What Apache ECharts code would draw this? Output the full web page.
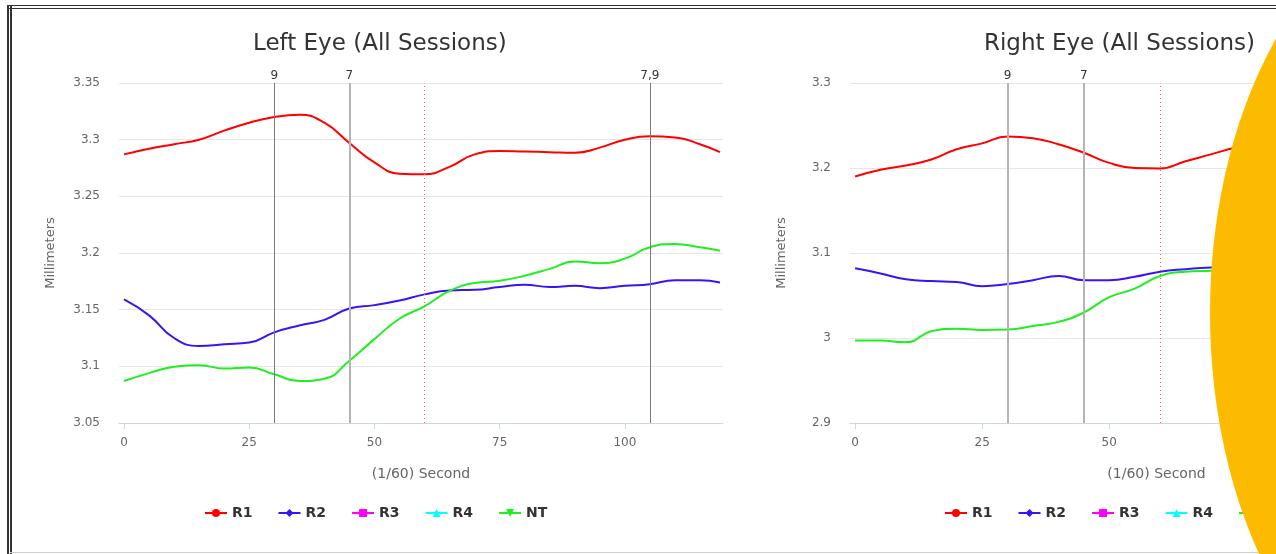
<!DOCTYPE html>
<html>
<head>
<meta charset="utf-8">
<script src="https://cdn.jsdelivr.net/npm/echarts@6/dist/echarts.min.js"></script>
<style>
  html, body { margin: 0; padding: 0; background: #fff; overflow: hidden; width: 1276px; height: 554px; }
  #chart { position: absolute; left: 0; top: 0; width: 1500px; height: 554px; }
  .frameTop { position: absolute; left: 7px; top: 5px; width: 1400px; height: 0; border-top: 4px double #333; }
  .frameLeft { position: absolute; left: 7px; top: 5px; width: 0; height: 549px; border-left: 5px double #333; }
  .frameBottom { position: absolute; left: 10px; top: 552px; width: 1400px; height: 0; border-top: 1px solid #cfcfcf; }
  .blob { position: absolute; left: 1210px; top: -92px; width: 500px; height: 810px; border-radius: 50%; background: #FDBB00; z-index: 10; }
</style>
</head>
<body>
<div id="chart"></div>
<div class="frameTop"></div>
<div class="frameLeft"></div>
<div class="frameBottom"></div>
<div class="blob"></div>
<script>
// time axis, in (1/60) second
const seconds = [0, 5, 10, 15, 20, 25, 30, 35, 40, 45, 50, 55, 60, 65, 70, 75, 80, 85, 90, 95, 100, 105, 110, 115, 119];
const xTicks = [0, 25, 50, 75, 100];
const seriesNames = ['R1', 'R2', 'R3', 'R4', 'NT'];

// Left eye
const leftR1 = [3.287, 3.292, 3.296, 3.300, 3.308, 3.315, 3.320, 3.322, 3.315, 3.297, 3.280, 3.270, 3.2695, 3.276, 3.287, 3.290, 3.2895, 3.289, 3.2885, 3.293, 3.300, 3.303, 3.302, 3.296, 3.289];
const leftR2 = [3.159, 3.145, 3.125, 3.118, 3.1195, 3.121, 3.130, 3.136, 3.141, 3.151, 3.154, 3.158, 3.1635, 3.167, 3.1675, 3.170, 3.172, 3.170, 3.171, 3.169, 3.171, 3.1725, 3.176, 3.176, 3.174];
const leftR3 = [];
const leftR4 = [];
const leftNT = [3.087, 3.094, 3.0997, 3.101, 3.098, 3.099, 3.093, 3.087, 3.089, 3.105, 3.124, 3.142, 3.153, 3.1665, 3.1735, 3.1755, 3.180, 3.186, 3.1925, 3.191, 3.195, 3.205, 3.208, 3.205, 3.202];

// Right eye
const rightR1 = [3.190, 3.198, 3.203, 3.210, 3.222, 3.229, 3.237, 3.235, 3.228, 3.218, 3.206, 3.200, 3.1995, 3.208, 3.216, 3.224, 3.228, 3.230, 3.232, 3.235, 3.238, 3.240, 3.236, 3.232, 3.230];
const rightR2 = [3.082, 3.076, 3.069, 3.067, 3.066, 3.061, 3.0635, 3.068, 3.073, 3.068, 3.068, 3.072, 3.078, 3.081, 3.083, 3.085, 3.086, 3.088, 3.087, 3.089, 3.090, 3.091, 3.090, 3.089, 3.088];
const rightR3 = [];
const rightR4 = [];
const rightNT = [2.997, 2.997, 2.995, 3.008, 3.011, 3.0095, 3.010, 3.014, 3.019, 3.030, 3.048, 3.058, 3.073, 3.078, 3.079, 3.080, 3.083, 3.086, 3.090, 3.093, 3.096, 3.100, 3.101, 3.099, 3.097];

// event markers
const leftEvents = [{ x: 30, label: '9', kind: 'dark' }, { x: 45, label: '7', kind: 'light' }, { x: 105, label: '7,9', kind: 'dark' }];
const rightEvents = [{ x: 30, label: '9', kind: 'light' }, { x: 45, label: '7', kind: 'light' }];
const stimulusX = 60;

const colors = { R1: '#ff0000', R2: '#3a14f5', R3: '#ff00ff', R4: '#00ffff', NT: '#1fef1f' };
const symbols = { R1: 'circle', R2: 'diamond', R3: 'rect', R4: 'triangle', NT: 'path://M0,0 L10,0 L5,9 Z' };

const FONT = 'DejaVu Sans';
const pairs = (vals) => vals.map((v, i) => [seconds[i], v]);

function markLineFor(events) {
  const data = events.map(e => ({
    xAxis: e.x,
    label: { show: true, formatter: e.label, position: 'end', color: '#333', fontSize: 12, fontFamily: FONT, distance: 1 },
    lineStyle: e.kind === 'dark' ? { color: '#7a7a7a', width: 1, type: 'solid' } : { color: '#b4b4b4', width: 2, type: 'solid' }
  }));
  data.push({ xAxis: stimulusX, label: { show: false }, lineStyle: { color: '#ff5555', width: 1, type: [1, 3] } });
  return { silent: true, symbol: ['none', 'none'], animation: false, data };
}

function makeSeries(gridIdx, dataMap, events) {
  return seriesNames.map((name, k) => {
    const s = {
      name, type: 'line', xAxisIndex: gridIdx, yAxisIndex: gridIdx,
      data: pairs(dataMap[name]), smooth: 0.5, symbol: symbols[name], symbolSize: 8, showSymbol: false,
      lineStyle: { width: 2, color: colors[name] }, itemStyle: { color: colors[name] },
      animation: false, z: 3
    };
    if (k === 0) s.markLine = markLineFor(events);
    return s;
  });
}

const axisLabelStyle = { color: '#666', fontSize: 12, fontFamily: FONT };
function xAxisFor(gridIdx, max) {
  return {
    type: 'value', gridIndex: gridIdx, min: -1, max,
    name: '(1/60) Second', nameLocation: 'middle', nameGap: 44,
    nameTextStyle: { color: '#666', fontSize: 14, fontFamily: FONT },
    axisLine: { show: true, lineStyle: { color: '#ccd6eb', width: 1 } },
    axisTick: { show: true, customValues: xTicks, length: 6, lineStyle: { color: '#ccd6eb' } },
    axisLabel: Object.assign({ customValues: xTicks, margin: 14 }, axisLabelStyle),
    splitLine: { show: false }
  };
}
function yAxisFor(gridIdx, min, max, interval) {
  return {
    type: 'value', gridIndex: gridIdx, min, max, interval,
    name: 'Millimeters', nameLocation: 'middle', nameGap: 62, nameRotate: 90,
    nameTextStyle: { color: '#666', fontSize: 13, fontFamily: FONT },
    axisLine: { show: false }, axisTick: { show: false },
    axisLabel: Object.assign({ margin: 19, formatter: v => String(+v.toFixed(2)) }, axisLabelStyle),
    splitLine: { show: true, lineStyle: { color: '#e6e6e6', width: 1 } }
  };
}

const chart = echarts.init(document.getElementById('chart'), null, { renderer: 'canvas' });
chart.setOption({
  backgroundColor: '#fff',
  animation: false,
  graphic: [
    { type: 'text', left: 380 - 127, top: 33, style: { text: 'Left Eye (All Sessions)', fill: '#333', font: '23px "DejaVu Sans"' } },
    { type: 'text', left: 1120 - 136, top: 33, style: { text: 'Right Eye (All Sessions)', fill: '#333', font: '23px "DejaVu Sans"' } }
  ],
  grid: [
    { left: 119, top: 83, width: 604, height: 340 },
    { left: 850, top: 83, width: 613, height: 340 }
  ],
  xAxis: [xAxisFor(0, 119.6), xAxisFor(1, 119.6)],
  yAxis: [yAxisFor(0, 3.05, 3.35, 0.05), yAxisFor(1, 2.9, 3.3, 0.1)],
  legend: [
    { data: seriesNames, left: 199, top: 501, itemWidth: 22, itemHeight: 10, itemGap: 25, selectedMode: false,
      textStyle: { color: '#333', fontWeight: 'bold', fontSize: 14, fontFamily: FONT } },
    { data: seriesNames, left: 939, top: 501, itemWidth: 22, itemHeight: 10, itemGap: 25, selectedMode: false,
      textStyle: { color: '#333', fontWeight: 'bold', fontSize: 14, fontFamily: FONT } }
  ],
  series: [
    ...makeSeries(0, { R1: leftR1, R2: leftR2, R3: leftR3, R4: leftR4, NT: leftNT }, leftEvents),
    ...makeSeries(1, { R1: rightR1, R2: rightR2, R3: rightR3, R4: rightR4, NT: rightNT }, rightEvents)
  ]
});
</script>
</body>
</html>
